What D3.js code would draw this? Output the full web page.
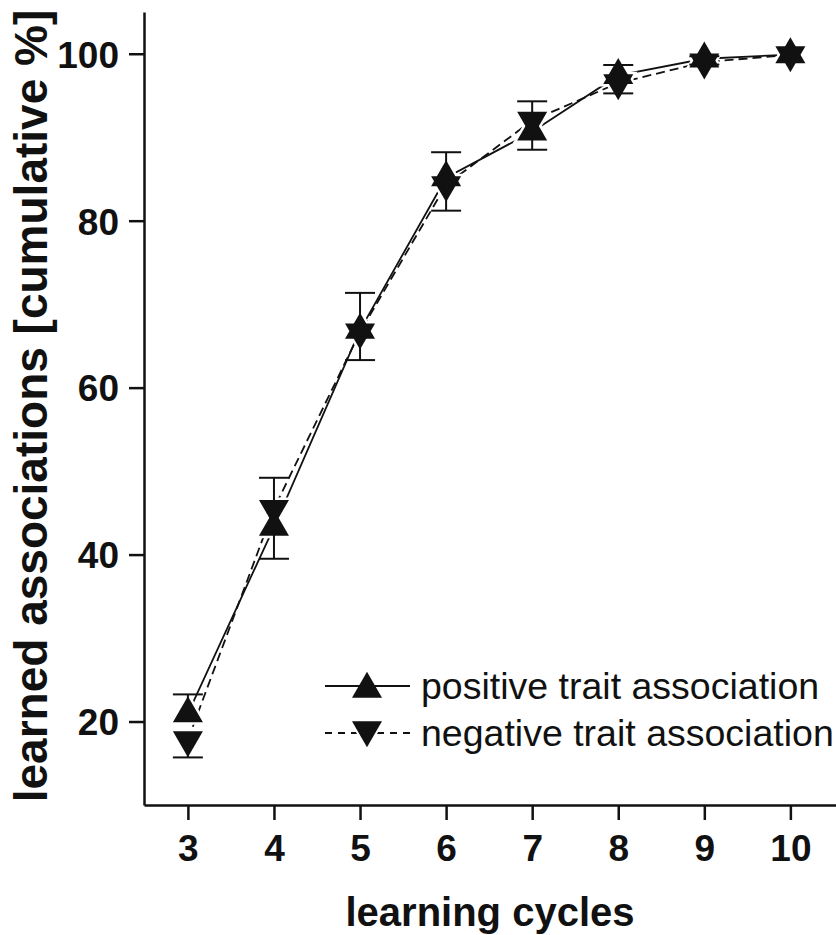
<!DOCTYPE html>
<html>
<head>
<meta charset="utf-8">
<script src="https://cdn.jsdelivr.net/npm/d3@7"></script>
<style>
  body { margin: 0; background: #fff; }
  svg text { font-family: "Liberation Sans", Arial, sans-serif; fill: #111; }
</style>
</head>
<body>
<svg id="chart" width="836" height="935"></svg>
<script>
// learning cycles
const cycles = [3, 4, 5, 6, 7, 8, 9, 10]
// cumulative % of learned associations
const positive = [20.95, 43.3, 66.9, 85.15, 90.65, 97.4, 99.4, 99.9]
const negative = [17.8, 45.5, 66.65, 84.3, 92.0, 96.5, 99.0, 99.85]
// error bars (positive drawn upward, negative downward)
const positiveErr = [2.3, 5.9, 4.45, 3.05, 3.65, 1.25, 0.3, 0]
const negativeErr = [2.1, 6.0, 3.35, 3.1, 3.5, 1.25, 0.3, 0]
const yTicks = [20, 40, 60, 80, 100]
const legendLabels = ["positive trait association", "negative trait association"]

const svg = d3.select("#chart")
const ink = "#111"

const x = d3.scaleLinear().domain([2.49, 10.53]).range([144, 836])
const y = d3.scaleLinear().domain([10, 105]).range([805, 12])

// axes
const xAxis = d3.axisBottom(x).tickValues(cycles).tickSize(15).tickSizeOuter(0).tickPadding(15)
const yAxis = d3.axisLeft(y).tickValues(yTicks).tickSize(15).tickSizeOuter(0).tickPadding(10)

const gx = svg.append("g").attr("transform", "translate(0,805)").call(xAxis)
const gy = svg.append("g").attr("transform", "translate(144,0)").call(yAxis)

;[gx, gy].forEach(g => {
  g.selectAll("path, line").attr("stroke", ink).attr("stroke-width", 2.5)
  g.selectAll("text")
    .attr("fill", ink)
    .style("font-size", "37px")
    .style("font-weight", "bold")
})
gy.selectAll("text").attr("dy", "0.36em")

svg.append("text")
  .attr("x", 490).attr("y", 926)
  .attr("text-anchor", "middle")
  .style("font-size", "40px").style("font-weight", "bold")
  .text("learning cycles")

svg.append("text")
  .attr("transform", "translate(47,406) rotate(-90)")
  .attr("text-anchor", "middle")
  .style("font-size", "46px").style("font-weight", "bold")
  .text("learned associations [cumulative %]")

// lines
const line = d3.line().x((d, i) => x(cycles[i])).y(d => y(d))

svg.append("path").datum(positive)
  .attr("d", line).attr("fill", "none")
  .attr("stroke", ink).attr("stroke-width", 1.8)

svg.append("path").datum(negative)
  .attr("d", line).attr("fill", "none")
  .attr("stroke", ink).attr("stroke-width", 1.8)
  .attr("stroke-dasharray", "9,5")

const tri = d3.symbol(d3.symbolTriangle, 390)

// white halo round markers
function markers(data, up, halo) {
  svg.append("g").selectAll("path")
    .data(data)
    .join("path")
    .attr("d", tri)
    .attr("transform", (d, i) => `translate(${x(cycles[i])},${y(d)}) rotate(${up ? 0 : 180})`)
    .attr("fill", halo ? "#fff" : ink)
    .attr("stroke", halo ? "#fff" : "none")
    .attr("stroke-width", halo ? 5 : 0)
}
markers(positive, true, true)
markers(negative, false, true)

// error bars
function errorBars(data, errs, dir) {
  const g = svg.append("g").attr("stroke", ink).attr("stroke-width", 2)
  data.forEach((d, i) => {
    if (!errs[i]) return
    const cx = x(cycles[i])
    const end = y(d + dir * errs[i])
    g.append("line").attr("x1", cx).attr("x2", cx).attr("y1", y(d)).attr("y2", end)
    g.append("line").attr("x1", cx - 15).attr("x2", cx + 15).attr("y1", end).attr("y2", end)
  })
}
errorBars(positive, positiveErr, 1)
errorBars(negative, negativeErr, -1)

markers(positive, true, false)
markers(negative, false, false)

// legend
const legend = svg.append("g")
const rows = [686, 733]

legend.append("line")
  .attr("x1", 325).attr("x2", 410).attr("y1", rows[0]).attr("y2", rows[0])
  .attr("stroke", ink).attr("stroke-width", 1.8)
legend.append("path").attr("d", tri)
  .attr("transform", `translate(367,${rows[0] + 3})`).attr("fill", ink)

legend.append("line")
  .attr("x1", 325).attr("x2", 410).attr("y1", rows[1]).attr("y2", rows[1])
  .attr("stroke", ink).attr("stroke-width", 1.8)
  .attr("stroke-dasharray", "7,6")
legend.append("path").attr("d", tri)
  .attr("transform", `translate(367,${rows[1] - 3}) rotate(180)`)
  .attr("fill", ink).attr("stroke", "#fff").attr("stroke-width", 4)
  .attr("paint-order", "stroke")

legend.selectAll("text")
  .data(legendLabels)
  .join("text")
  .attr("x", 421)
  .attr("y", (d, i) => rows[i])
  .attr("dy", "0.35em")
  .style("font-size", "37.5px")
  .text(d => d)
</script>
</body>
</html>
